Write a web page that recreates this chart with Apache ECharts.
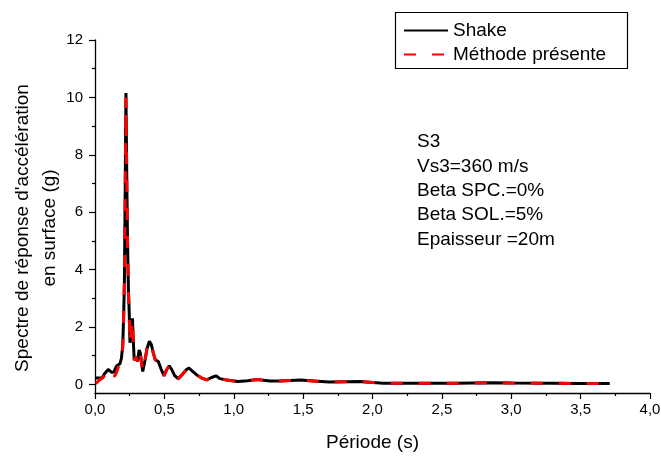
<!DOCTYPE html>
<html>
<head>
<meta charset="utf-8">
<script src="https://cdn.jsdelivr.net/npm/echarts@6/dist/echarts.min.js"></script>
<style>html,body{margin:0;padding:0;background:#fff}#c{width:661px;height:456px}</style>
</head>
<body>
<div id="c"></div>
<script>
const periodShake = [0.005,0.05,0.07,0.095,0.12,0.135,0.155,0.18,0.19,0.2,0.207,0.212,0.218,0.223,0.229,0.235,0.241,0.246,0.252,0.258,0.264,0.27,0.276,0.283,0.295,0.307,0.318,0.326,0.344,0.36,0.375,0.392,0.405,0.42,0.435,0.456,0.475,0.497,0.515,0.535,0.555,0.575,0.6,0.63,0.66,0.677,0.7,0.733,0.77,0.805,0.84,0.872,0.9,0.95,1.03,1.1,1.17,1.26,1.33,1.48,1.6,1.69,1.8,1.91,2.0,2.08,2.3,2.6,2.85,3.0,3.3,3.5,3.71];
const saShake = [0.22,0.22,0.38,0.52,0.42,0.42,0.64,0.72,0.9,1.35,2.5,3.6,7.0,10.15,7.2,4.8,3.3,2.6,1.45,1.5,2.0,2.3,1.5,0.84,0.95,0.8,1.2,1.1,0.45,0.83,1.25,1.5,1.4,1.1,0.85,0.8,0.55,0.3,0.5,0.65,0.5,0.3,0.2,0.35,0.52,0.57,0.47,0.33,0.22,0.16,0.24,0.3,0.2,0.15,0.1,0.13,0.17,0.12,0.12,0.15,0.11,0.08,0.09,0.1,0.07,0.04,0.04,0.04,0.06,0.05,0.04,0.03,0.03];
const periodMethode = [0.005,0.03,0.06,0.085,0.11,0.128,0.15,0.17,0.185,0.2,0.207,0.212,0.218,0.223,0.229,0.235,0.241,0.246,0.252,0.258,0.264,0.27,0.276,0.283,0.295,0.307,0.318,0.326,0.344,0.36,0.375,0.392,0.405,0.42,0.435,0.456,0.475,0.497,0.515,0.535,0.555,0.575,0.6,0.63,0.66,0.677,0.7,0.733,0.77,0.805,0.84,0.872,0.9,0.95,1.03,1.1,1.17,1.26,1.33,1.48,1.6,1.69,1.8,1.91,2.0,2.08,2.3,2.6,2.85,3.0,3.3,3.5,3.71];
const saMethode = [0.03,0.14,0.25,0.45,0.33,0.2,0.36,0.62,0.72,1.3,2.4,3.5,6.9,10.0,7.1,4.7,3.2,2.5,1.45,1.5,2.0,2.25,1.5,0.84,0.95,0.8,1.2,1.1,0.45,0.83,1.25,1.5,1.4,1.1,0.85,0.8,0.55,0.3,0.5,0.65,0.5,0.3,0.2,0.35,0.52,0.57,0.47,0.33,0.22,0.16,0.24,0.3,0.2,0.15,0.1,0.13,0.17,0.12,0.12,0.15,0.11,0.08,0.09,0.1,0.07,0.04,0.04,0.04,0.06,0.05,0.04,0.03,0.03];
const yMajor = [0,2,4,6,8,10,12];
const yMinor = [1,3,5,7,9,11];
const seriesNames = ['Shake','Méthode présente'];
const annotation = ['S3','Vs3=360 m/s','Beta SPC.=0%','Beta SOL.=5%','Epaisseur =20m'];
const yTitle = "Spectre de réponse d'accélération\nen surface (g)";
const xTitle = 'Période (s)';

const FONT = '"Liberation Sans", Arial, sans-serif';
const chart = echarts.init(document.getElementById('c'), null, {renderer:'canvas'});
const zip = (a,b) => a.map((v,i)=>[v,b[i]]);
const option = {
  animation:false,
  backgroundColor:'#fff',
  grid:{left:95, right:11, top:40, bottom:63, containLabel:false, outerBoundsMode:'none'},
  xAxis:{
    type:'value', min:0, max:4, interval:0.5,
    axisLine:{show:true, onZero:false, lineStyle:{color:'#000', width:1.3}},
    axisTick:{show:true, inside:false, length:6, lineStyle:{color:'#000', width:1.2}},
    minorTick:{show:true, splitNumber:2, length:3, lineStyle:{color:'#000', width:1.2}},
    splitLine:{show:false},
    axisLabel:{color:'#000', fontSize:15, fontFamily:FONT, margin:9,
      formatter:v=>v.toFixed(1).replace('.',',')},
    name:xTitle, nameLocation:'middle', nameGap:40,
    nameTextStyle:{color:'#000', fontSize:19, fontFamily:FONT}
  },
  yAxis:[{
    type:'value', min:-0.3, max:12,
    axisLine:{show:true, onZero:false, lineStyle:{color:'#000', width:1.3}},
    axisTick:{show:true, inside:false, length:6, customValues:yMajor, lineStyle:{color:'#000', width:1.2}},
    splitLine:{show:false},
    axisLabel:{color:'#000', fontSize:15, fontFamily:FONT, margin:12, customValues:yMajor}
  },{
    type:'value', min:-0.3, max:12, position:'left',
    axisLine:{show:false},
    axisTick:{show:true, inside:false, length:3, customValues:yMinor, lineStyle:{color:'#000', width:1.2}},
    splitLine:{show:false},
    axisLabel:{show:false}
  }],
  legend:{
    show:true, orient:'vertical', left:403, top:21, padding:0,
    itemWidth:44, itemHeight:14, itemGap:5,
    itemStyle:{opacity:0},
    textStyle:{color:'#000', fontSize:19, fontFamily:FONT},
    data:seriesNames
  },
  graphic:[
    {type:'rect', shape:{x:395.5, y:12.5, width:232, height:56}, style:{fill:'none', stroke:'#000', lineWidth:1.2}, z:0, silent:true},
    {type:'text', x:36, y:228, rotation:Math.PI/2, style:{text:yTitle, fill:'#000', font:'19px '+FONT, align:'center', verticalAlign:'middle', lineHeight:27}},
    {type:'text', left:417, top:130, style:{text:annotation.join('\n'), fill:'#000', font:'19px '+FONT, lineHeight:24.3}}
  ],
  series:[
    {name:seriesNames[0], type:'line', data:zip(periodShake, saShake), showSymbol:false, symbol:'none',
      lineStyle:{color:'#000', width:3}, itemStyle:{color:'#000'}, z:2},
    {name:seriesNames[1], type:'line', data:zip(periodMethode, saMethode), showSymbol:false, symbol:'none',
      lineStyle:{color:'#ff0000', width:3, type:[12,16]}, itemStyle:{color:'#ff0000'}, z:3}
  ]
};
chart.setOption(option);
</script>
</body>
</html>
